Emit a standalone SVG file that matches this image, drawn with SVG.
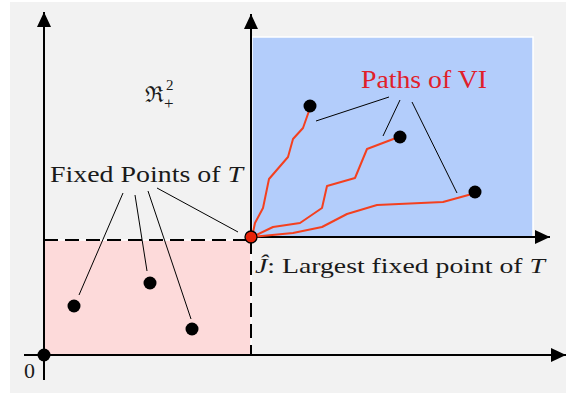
<svg xmlns="http://www.w3.org/2000/svg" width="566" height="396" viewBox="0 0 566 396">
<style>
.ax{stroke:#000;stroke-width:2;fill:none}
.call{stroke:#000;stroke-width:1;fill:none}
.path{stroke:#f4401f;stroke-width:2;fill:none;stroke-linejoin:round}
.dot{fill:#000}
text{font-family:'Liberation Serif','Times New Roman','DejaVu Serif',serif;fill:#1a1a1a}
.dash{stroke:#000;stroke-width:2;stroke-dasharray:14 7;fill:none}
</style>
<defs>
<marker id="ah" viewBox="0 0 15 14" refX="15" refY="7" markerWidth="15" markerHeight="14" markerUnits="userSpaceOnUse" orient="auto">
<path d="M0,0 L15,7 L0,14 Z" fill="#000"/>
</marker>
</defs>
<rect x="10" y="2" width="556" height="391" fill="#f2f2f2"/>
<g id="regions">
<rect x="252" y="37" width="281" height="200" fill="#b3cdfb" stroke="#fff" stroke-width="1.5"/>
<rect x="44" y="240" width="207" height="115" fill="#fddada" stroke="#fff" stroke-width="1.5"/>
</g>
<g id="connectors">
<line class="ax" x1="44" y1="380" x2="44" y2="12" marker-end="url(#ah)"/>
<line class="ax" x1="24" y1="355" x2="566" y2="355" marker-end="url(#ah)"/>
<line class="ax" x1="251" y1="237" x2="251" y2="14" marker-end="url(#ah)"/>
<line class="ax" x1="251" y1="237" x2="550" y2="237" marker-end="url(#ah)"/>
<line class="dash" x1="44" y1="240" x2="251" y2="240"/>
<line class="dash" x1="251" y1="240" x2="251" y2="355"/>
<polyline class="path" points="252,237 255,223 263,208 269,179 288,157 293,139 303,128 309,111"/>
<polyline class="path" points="252,237 273,227 300,223 322,208 327,186 355,178 367,149 396,138"/>
<polyline class="path" points="252,237 293,233 322,227 347,214 377,205 443,202 472,194"/>
<line class="call" x1="316" y1="121" x2="389" y2="97"/>
<line class="call" x1="400" y1="100" x2="383" y2="136"/>
<line class="call" x1="412" y1="102" x2="457" y2="193"/>
<line class="call" x1="123" y1="193" x2="79" y2="295"/>
<line class="call" x1="135" y1="195" x2="147" y2="271"/>
<line class="call" x1="148" y1="191" x2="191" y2="319"/>
<line class="call" x1="157" y1="188" x2="238" y2="232"/>
</g>
<g id="points">
<circle class="dot" cx="310" cy="106" r="6.5"/>
<circle class="dot" cx="400" cy="137" r="6.5"/>
<circle class="dot" cx="475" cy="192" r="6.5"/>
<circle class="dot" cx="74" cy="306" r="6.5"/>
<circle class="dot" cx="150" cy="283" r="6.5"/>
<circle class="dot" cx="192" cy="329" r="6.5"/>
<circle class="dot" cx="44" cy="355" r="6.5"/>
<circle cx="251" cy="237" r="6" fill="#e8230a" stroke="#000" stroke-width="1.3"/>
</g>
<g id="labels">
<text x="361" y="88" font-family="Liberation Serif, serif" font-size="25" style="fill:#e0202a" textLength="126" lengthAdjust="spacingAndGlyphs">Paths of VI</text>
<text x="50" y="182" font-family="Liberation Serif, serif" font-size="24" textLength="193" lengthAdjust="spacingAndGlyphs">Fixed Points of <tspan font-style="italic">T</tspan></text>
<text x="255" y="273" font-family="Liberation Serif, serif" font-size="22" textLength="290" lengthAdjust="spacingAndGlyphs"><tspan font-style="italic">Ĵ</tspan>: Largest fixed point of <tspan font-style="italic">T</tspan></text>
<text x="145" y="102" font-family="Liberation Serif, serif" font-size="22">ℜ</text>
<text x="166" y="90" font-family="Liberation Serif, serif" font-size="15">2</text>
<text x="164" y="109" font-family="Liberation Serif, serif" font-size="17">+</text>
<text x="24" y="378" font-family="Liberation Serif, serif" font-size="22">0</text>
</g>
</svg>
